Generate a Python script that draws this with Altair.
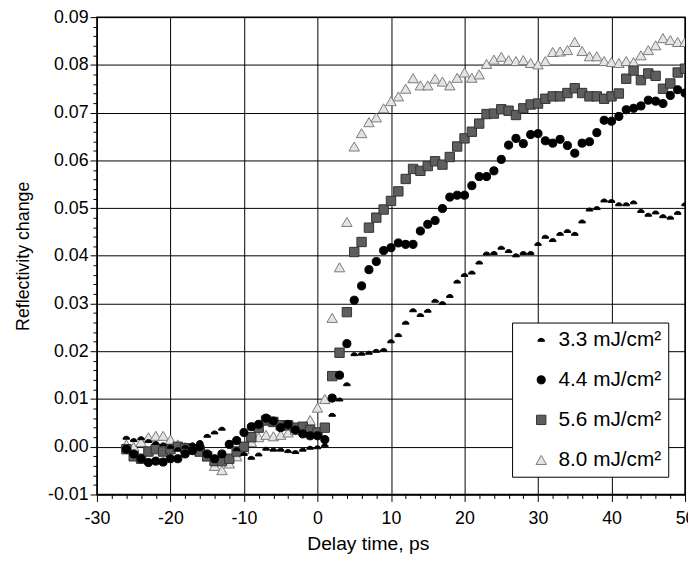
import altair as alt
import numpy as np
import pandas as pd

# Delay times (ps) shared by all four series
times = list(range(-26, 51))

labels = ["3.3 mJ/cm²", "4.4 mJ/cm²", "5.6 mJ/cm²", "8.0 mJ/cm²"]

r33 = [0.0019, 0.0014, 0.0018, 0.0012, 0.0008, 0.0005, 0.0, -0.0005, 0.0, 0.0005,
       0.001, 0.0023, 0.003, 0.0038, 0.001, -0.0005, -0.0015, -0.0023, -0.0016, -0.0004,
       -0.0006, -0.0006, -0.0009, -0.0011, -0.0006, -0.0002, -0.0001,
       0.0003, 0.0067, 0.0099, 0.0131, 0.0194, 0.0195, 0.0197, 0.0201, 0.0203, 0.0221,
       0.0234, 0.026, 0.0286, 0.0276, 0.0285, 0.0306, 0.0301, 0.0316, 0.0346, 0.036,
       0.0365, 0.0386, 0.0405, 0.0406, 0.0417, 0.041, 0.0401, 0.0406, 0.0406, 0.0425,
       0.044, 0.0433, 0.0446, 0.0452, 0.0446, 0.0472, 0.0497, 0.05, 0.0516, 0.0515,
       0.0508, 0.0508, 0.0512, 0.0494, 0.0486, 0.0491, 0.0483, 0.048, 0.049, 0.0508]

r44 = [-0.0005, -0.0015, -0.0025, -0.0033, -0.003, -0.0032, -0.0025, -0.0025, -0.0015, -0.0008,
       0.0, -0.0015, -0.0025, -0.0015, 0.0005, 0.0013, 0.003, 0.0042, 0.0047, 0.006,
       0.0054, 0.004, 0.0047, 0.0035, 0.0027, 0.0023, 0.0023,
       0.0015, 0.0102, 0.015, 0.0216, 0.0307, 0.0337, 0.0371, 0.0388, 0.0411, 0.0417,
       0.0427, 0.0424, 0.0424, 0.0452, 0.0466, 0.0474, 0.0499, 0.0523, 0.0527, 0.0527,
       0.0547, 0.0566, 0.0566, 0.0578, 0.0602, 0.0632, 0.0646, 0.0635, 0.0654, 0.0656,
       0.0641, 0.0636, 0.0644, 0.0631, 0.0615, 0.0636, 0.0639, 0.0658, 0.0684, 0.0682,
       0.0692, 0.0706, 0.0709, 0.0714, 0.0726, 0.0724, 0.0719, 0.0736, 0.0748, 0.0741]

r56 = [-0.0005, -0.002, -0.0025, -0.001, -0.0005, -0.001, -0.0005, 0.0, -0.0003, -0.0005,
       -0.001, -0.002, -0.003, -0.003, -0.0025, -0.001, 0.0, 0.002, 0.004, 0.0055,
       0.0052, 0.0045, 0.0045, 0.004, 0.0042, 0.0035, 0.003,
       0.004, 0.0148, 0.0197, 0.0282, 0.0408, 0.0429, 0.0459, 0.048, 0.0497, 0.0515,
       0.0535, 0.0561, 0.0582, 0.0578, 0.0588, 0.0598, 0.0591, 0.0607, 0.0629, 0.0646,
       0.066, 0.0677, 0.0697, 0.0698, 0.0707, 0.0704, 0.0695, 0.0709, 0.0717, 0.0719,
       0.0729, 0.0734, 0.0734, 0.0741, 0.0751, 0.0741, 0.0734, 0.0734, 0.0729, 0.0734,
       0.074, 0.0771, 0.0788, 0.0768, 0.0782, 0.0777, 0.075, 0.0761, 0.0784, 0.0792]

r80 = [0.0005, 0.0, 0.001, 0.002, 0.0023, 0.0023, 0.0015, 0.0005, 0.0, 0.0,
       -0.001, -0.002, -0.004, -0.0049, -0.0035, -0.002, -0.0005, 0.001, 0.002, 0.0025,
       0.0022, 0.0025, 0.003, 0.0035, 0.004, 0.0056, 0.0082,
       0.01, 0.027, 0.0376, 0.0471, 0.0629, 0.0657, 0.068, 0.069, 0.0709, 0.0724,
       0.0734, 0.075, 0.0772, 0.0757, 0.0757, 0.0771, 0.0765, 0.0757, 0.0773, 0.0784,
       0.0773, 0.078, 0.0802, 0.0811, 0.0817, 0.081, 0.0808, 0.081, 0.0804, 0.0801,
       0.0808, 0.0827, 0.0828, 0.0831, 0.0848, 0.0829, 0.0818, 0.0818, 0.0808, 0.0806,
       0.0804, 0.0808, 0.0806, 0.082, 0.0831, 0.0841, 0.0856, 0.0852, 0.0848, 0.0848]

x_ticks = list(range(-30, 51, 2))
y_ticks = [round(v, 3) for v in np.arange(-0.01, 0.0901, 0.002)]

# draw order: lightest series first, small dots on top
frames = []
for lab, vals in [(labels[3], r80), (labels[2], r56), (labels[1], r44), (labels[0], r33)]:
    frames.append(pd.DataFrame({"t": times, "r": vals, "series": lab}))
df = pd.concat(frames, ignore_index=True)

dome = "M-1,0.45C-1,-0.75,1,-0.75,1,0.45Z"
shapes = [dome, "circle", "square", "triangle-up"]
sizes = [45, 112, 70, 40]
fills = ["black", "black", "#5e5e5e", "#e4e4e4"]
strokes = ["black", "black", "#333333", "#7a7a7a"]

FONT = "Liberation Sans"

leg = alt.Legend(title=None, orient="none", legendX=420, legendY=309,
                 labelFontSize=21, labelFont=FONT, labelColor="black",
                 strokeColor="black", fillColor="white", padding=7,
                 rowPadding=18.5, symbolOffset=12, labelOffset=7,
                 symbolStrokeWidth=1, labelLimit=300)

x_axis = alt.Axis(values=x_ticks, title="Delay time, ps",
                  labelExpr="datum.value % 10 === 0 ? replace(format(datum.value, 'd'), '\u2212', '-') : ''",
                  labelOverlap=False, labelFlush=False,
                  labelFontSize=18, labelFont=FONT, labelColor="black", labelPadding=8,
                  titleFontSize=19.5, titleFont=FONT, titleFontWeight="normal",
                  titleColor="black", titleX=274, titleY=56, titleBaseline="alphabetic",
                  titleAlign="center",
                  tickColor="black", domainColor="black", gridColor="black",
                  tickSize={"condition": {"test": "datum.value % 10 === 0", "value": 7}, "value": 4},
                  gridOpacity={"condition": {"test": "datum.value % 10 === 0", "value": 1}, "value": 0},
                  gridWidth=1, tickWidth=1)

ytest = "abs(datum.value * 100 - round(datum.value * 100)) < 0.001"
y_axis = alt.Axis(values=y_ticks, title="Reflectivity change",
                  labelExpr=f"{ytest} ? replace(format(datum.value, '.2f'), '\u2212', '-') : ''",
                  labelOverlap=False, labelFlush=False,
                  labelFontSize=18, labelFont=FONT, labelColor="black", labelPadding=2,
                  titleFontSize=18, titleFont=FONT, titleFontWeight="normal",
                  titleColor="black", titlePadding=15,
                  tickColor="black", domainColor="black", gridColor="black",
                  tickSize={"condition": {"test": ytest, "value": 7}, "value": 4},
                  gridOpacity={"condition": {"test": ytest, "value": 1}, "value": 0},
                  gridWidth=1, tickWidth=1)

chart = alt.Chart(df).mark_point(filled=True, opacity=1, strokeWidth=1, clip=True).encode(
    x=alt.X("t:Q", scale=alt.Scale(domain=[-30, 50], nice=False, zero=False), axis=x_axis),
    y=alt.Y("r:Q", scale=alt.Scale(domain=[-0.01, 0.09], nice=False, zero=False), axis=y_axis),
    shape=alt.Shape("series:N", scale=alt.Scale(domain=labels, range=shapes), legend=leg),
    size=alt.Size("series:N", scale=alt.Scale(domain=labels, range=sizes), legend=leg),
    fill=alt.Fill("series:N", scale=alt.Scale(domain=labels, range=fills), legend=leg),
    stroke=alt.Stroke("series:N", scale=alt.Scale(domain=labels, range=strokes), legend=leg),
).properties(
    width=595, height=483,
    autosize=alt.AutoSizeParams(type="none"),
    padding={"left": 90, "top": 6, "right": 3, "bottom": 62},
    background="white",
).configure_view(stroke="black", strokeWidth=1.5)

chart.save("out.html", embed_options={"renderer": "svg", "actions": False})
